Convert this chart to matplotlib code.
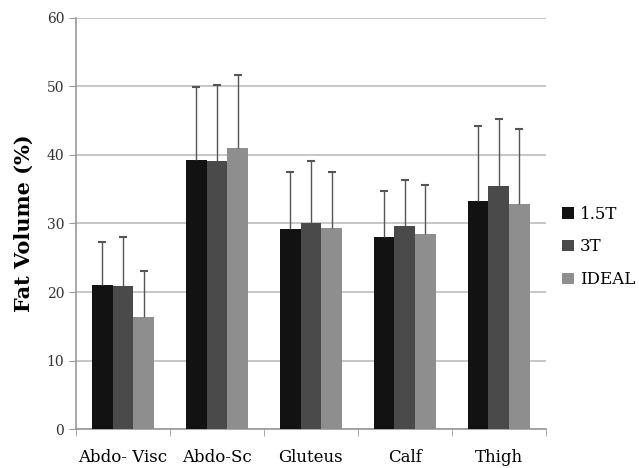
import numpy as np
import matplotlib.pyplot as plt

plt.rcParams['font.family'] = ['DejaVu Serif']

# fat volume (%) per region, three acquisitions
regions = ['Abdo- Visc', 'Abdo-Sc', 'Gluteus', 'Calf', 'Thigh']
series = ['1.5T', '3T', 'IDEAL']
mean_15 = [21.0, 39.2, 29.2, 28.0, 33.3]
mean_3 = [20.9, 39.1, 30.1, 29.7, 35.5]
mean_ideal = [16.3, 41.0, 29.3, 28.4, 32.8]
sd_15 = [6.3, 10.7, 8.3, 6.8, 10.9]
sd_3 = [7.1, 11.1, 9.0, 6.7, 9.8]
sd_ideal = [6.7, 10.6, 8.2, 7.2, 11.0]

colors = ['#121212', '#4a4a4a', '#8e8e8e']
means = [mean_15, mean_3, mean_ideal]
sds = [sd_15, sd_3, sd_ideal]

fig = plt.figure(figsize=(6.39, 4.68), dpi=100)
ax = fig.add_axes([0.119, 0.083, 0.735, 0.879])

x = np.arange(len(regions))
w = 0.22
for k in range(3):
    pos = x + (k - 1) * w
    m = np.array(means[k])
    s = np.array(sds[k])
    ax.bar(pos, m, w, color=colors[k], label=series[k], zorder=3)
    # upper error bar only, cap on top
    ax.vlines(pos, m, m + s, color='#555555', linewidth=1, zorder=4)
    ax.plot(pos, m + s, linestyle='none', marker='_', markersize=6,
            markeredgewidth=1.5, color='#555555', zorder=4)

ax.set_xlim(-0.5, len(regions) - 0.5)
ax.set_ylim(0, 60)
ax.set_yticks(range(0, 61, 10))
ax.yaxis.grid(True, color='#bdbdbd', linewidth=1.2, zorder=0)
ax.set_xticks(x)
ax.set_xticklabels(regions, fontsize=12)
ax.set_xticks(np.arange(-0.5, len(regions)), minor=True)
ax.tick_params(axis='x', which='major', length=0, pad=14)
ax.tick_params(axis='x', which='minor', length=5, color='#999999', direction='out')
ax.tick_params(axis='y', length=5, color='#999999', labelsize=10, labelcolor='#333333')
for sp in ['top', 'right']:
    ax.spines[sp].set_visible(False)
for sp in ['left', 'bottom']:
    ax.spines[sp].set_color('#999999')
    ax.spines[sp].set_linewidth(1.2)
ax.set_ylabel('Fat Volume (%)', fontsize=15, fontweight='bold', labelpad=9)

ax.legend(loc='center left', bbox_to_anchor=(1.035, 0.443), frameon=False,
          fontsize=12, handlelength=0.7, handleheight=0.7, handletextpad=0.35,
          labelspacing=0.95, borderaxespad=0, borderpad=0)

fig.savefig('out.png', dpi=100)
